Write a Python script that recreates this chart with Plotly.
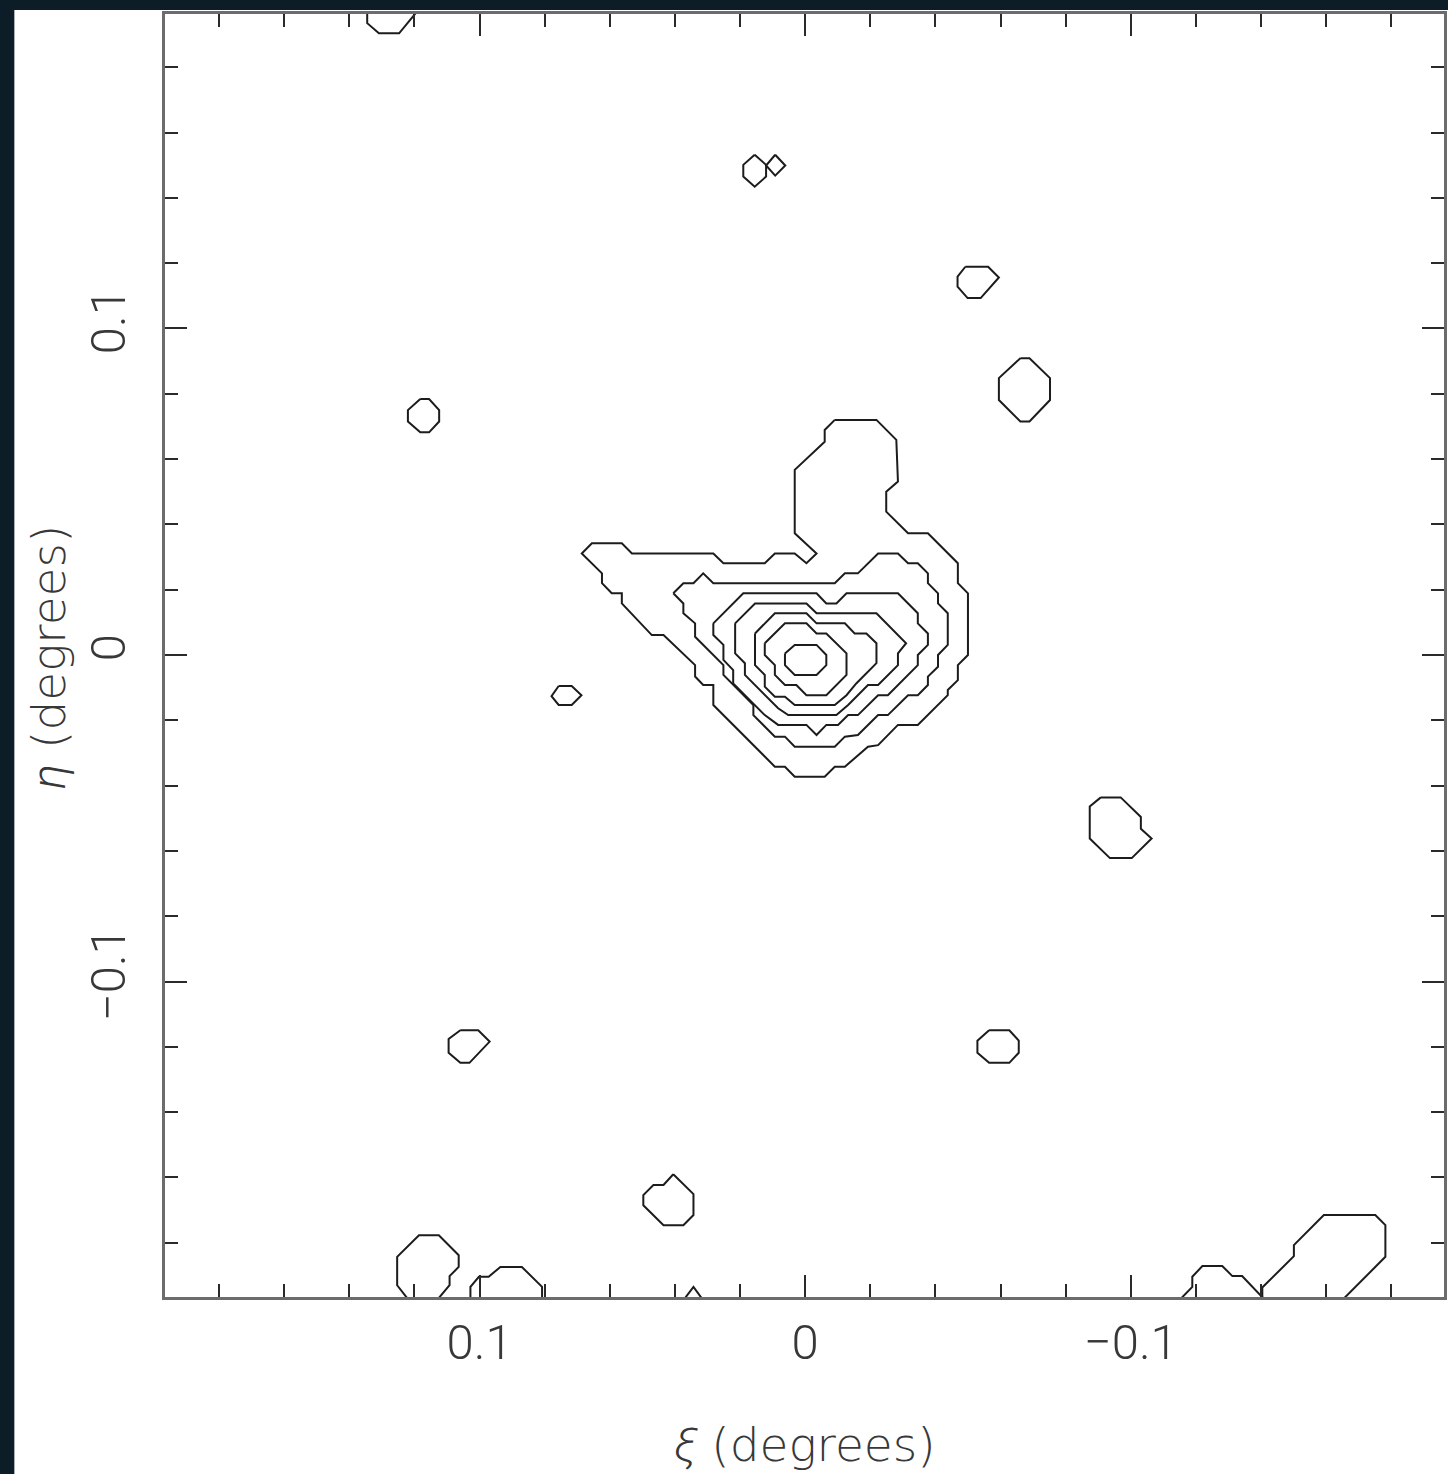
import plotly.graph_objects as go

# ---------------- data (degrees) ----------------
# Tick labels
x_tick_vals = [0.1, 0.0, -0.1]
x_tick_text = ["0.1", "0", "\u22120.1"]
y_tick_vals = [0.1, 0.0, -0.1]
y_tick_text = ["0.1", "0", "\u22120.1"]

# Central nested density contours (outermost level 1 ... innermost level 7)
lvl1_xi = [-0.0091, -0.0219, -0.0280, -0.0285, -0.0249, -0.0249, -0.0316, -0.0377, -0.0469, -0.0469,
           -0.0500, -0.0500, -0.0469, -0.0469, -0.0438, -0.0438, -0.0346, -0.0285, -0.0224, -0.0193,
           -0.0122, -0.0091, -0.0060, 0.0032, 0.0062, 0.0093, 0.0282, 0.0282, 0.0313, 0.0338,
           0.0338, 0.0435, 0.0471, 0.0563, 0.0563, 0.0594, 0.0624, 0.0624, 0.0686, 0.0655,
           0.0563, 0.0532, 0.0282, 0.0251, 0.0124, 0.0093, 0.0032, -0.0004, -0.0035, 0.0032,
           0.0032, -0.0060, -0.0060, -0.0091]
lvl1_eta = [0.0720, 0.0720, 0.0659, 0.0531, 0.0500, 0.0439, 0.0373, 0.0373, 0.0281, 0.0220,
            0.0189, 0.0000, -0.0031, -0.0077, -0.0107, -0.0123, -0.0214, -0.0214, -0.0276, -0.0281,
            -0.0342, -0.0342, -0.0373, -0.0373, -0.0342, -0.0342, -0.0153, -0.0092, -0.0092, -0.0066,
            -0.0031, 0.0061, 0.0061, 0.0158, 0.0189, 0.0189, 0.0220, 0.0250, 0.0311, 0.0342,
            0.0342, 0.0311, 0.0311, 0.0281, 0.0281, 0.0311, 0.0311, 0.0281, 0.0311, 0.0373,
            0.0567, 0.0653, 0.0689, 0.0720]

lvl2_xi = [0.0405, 0.0374, 0.0343, 0.0313, 0.0282, -0.0091, -0.0122, -0.0162, -0.0224, -0.0285,
           -0.0316, -0.0346, -0.0377, -0.0377, -0.0408, -0.0408, -0.0438, -0.0438, -0.0408, -0.0408,
           -0.0377, -0.0377, -0.0346, -0.0316, -0.0254, -0.0224, -0.0162, -0.0122, -0.0091, 0.0032,
           0.0062, 0.0093, 0.0159, 0.0159, 0.0251, 0.0251, 0.0338, 0.0338, 0.0374, 0.0374, 0.0405]
lvl2_eta = [0.0189, 0.0220, 0.0220, 0.0250, 0.0220, 0.0220, 0.0250, 0.0250, 0.0311, 0.0311,
            0.0281, 0.0281, 0.0250, 0.0220, 0.0189, 0.0158, 0.0128, 0.0031, 0.0000, -0.0036,
            -0.0066, -0.0092, -0.0123, -0.0123, -0.0184, -0.0184, -0.0245, -0.0250, -0.0281, -0.0281,
            -0.0250, -0.0250, -0.0184, -0.0153, -0.0061, -0.0031, 0.0056, 0.0097, 0.0128, 0.0158, 0.0189]

lvl3_xi = [0.0282, 0.0190, -0.0035, -0.0065, -0.0096, -0.0127, -0.0285, -0.0346, -0.0346, -0.0377,
           -0.0377, -0.0346, -0.0346, -0.0316, -0.0254, -0.0224, -0.0162, -0.0132, -0.0101, -0.0065,
           -0.0035, -0.0004, 0.0083, 0.0124, 0.0221, 0.0221, 0.0251, 0.0251, 0.0282, 0.0282]
lvl3_eta = [0.0097, 0.0189, 0.0189, 0.0158, 0.0158, 0.0189, 0.0189, 0.0128, 0.0097, 0.0066,
            0.0031, 0.0000, -0.0031, -0.0061, -0.0123, -0.0123, -0.0184, -0.0184, -0.0214, -0.0214,
            -0.0245, -0.0214, -0.0214, -0.0184, -0.0087, -0.0046, -0.0015, 0.0031, 0.0061, 0.0097]

lvl4_xi = [0.0215, 0.0154, -0.0004, -0.0035, -0.0219, -0.0310, -0.0285, -0.0285, -0.0224, -0.0193,
           -0.0132, -0.0096, 0.0052, 0.0083, 0.0185, 0.0185, 0.0215, 0.0215]
lvl4_eta = [0.0097, 0.0158, 0.0158, 0.0128, 0.0128, 0.0036, 0.0005, -0.0031, -0.0092, -0.0092,
            -0.0153, -0.0184, -0.0184, -0.0163, -0.0061, -0.0025, 0.0005, 0.0097]

lvl5_xi = [0.0154, 0.0093, -0.0004, -0.0035, -0.0122, -0.0152, -0.0188, -0.0219, -0.0219, -0.0157,
           -0.0127, -0.0091, 0.0032, 0.0062, 0.0093, 0.0124, 0.0124, 0.0154, 0.0154]
lvl5_eta = [0.0066, 0.0128, 0.0128, 0.0097, 0.0097, 0.0066, 0.0066, 0.0036, -0.0025, -0.0087,
            -0.0123, -0.0153, -0.0153, -0.0128, -0.0128, -0.0097, -0.0061, -0.0031, 0.0066]

lvl6_xi = [0.0124, 0.0062, -0.0004, -0.0035, -0.0065, -0.0127, -0.0127, -0.0065, -0.0004, 0.0027,
           0.0062, 0.0093, 0.0093, 0.0124, 0.0124]
lvl6_eta = [0.0036, 0.0097, 0.0097, 0.0066, 0.0066, 0.0005, -0.0061, -0.0123, -0.0123, -0.0092,
            -0.0092, -0.0061, -0.0031, 0.0000, 0.0036]

lvl7_xi = [0.0062, 0.0032, -0.0035, -0.0065, -0.0065, -0.0035, 0.0032, 0.0062, 0.0062]
lvl7_eta = [0.0005, 0.0031, 0.0031, 0.0000, -0.0031, -0.0061, -0.0061, -0.0031, 0.0005]

# Isolated lowest-level contours around the field
blob01_xi = [0.1345, 0.1345, 0.1309, 0.1247, 0.1175]
blob01_eta = [0.1991, 0.1935, 0.1904, 0.1904, 0.1991]
blob02_xi = [0.0155, 0.0120, 0.0120, 0.0155, 0.0190, 0.0190, 0.0155]
blob02_eta = [0.1532, 0.1501, 0.1465, 0.1434, 0.1465, 0.1501, 0.1532]
blob03_xi = [0.0092, 0.0061, 0.0092, 0.0120, 0.0092]
blob03_eta = [0.1532, 0.1499, 0.1468, 0.1499, 0.1532]
blob04_xi = [-0.0492, -0.0562, -0.0595, -0.0539, -0.0499, -0.0468, -0.0468, -0.0492]
blob04_eta = [0.1189, 0.1189, 0.1156, 0.1093, 0.1093, 0.1128, 0.1159, 0.1189]
blob05_xi = [-0.0661, -0.0689, -0.0752, -0.0752, -0.0689, -0.0661, -0.0595, -0.0595, -0.0661]
blob05_eta = [0.0909, 0.0909, 0.0848, 0.0781, 0.0715, 0.0715, 0.0781, 0.0848, 0.0909]
blob06_xi = [0.1182, 0.1155, 0.1124, 0.1124, 0.1155, 0.1182, 0.1220, 0.1220, 0.1182]
blob06_eta = [0.0784, 0.0784, 0.0750, 0.0715, 0.0682, 0.0682, 0.0715, 0.0750, 0.0784]
blob07_xi = [0.0757, 0.0717, 0.0687, 0.0717, 0.0757, 0.0779, 0.0757]
blob07_eta = [-0.0095, -0.0095, -0.0123, -0.0153, -0.0153, -0.0126, -0.0095]
blob08_xi = [-0.0908, -0.0969, -0.1031, -0.1031, -0.1064, -0.1003, -0.0936, -0.0874, -0.0874, -0.0908]
blob08_eta = [-0.0436, -0.0436, -0.0496, -0.0532, -0.0562, -0.0622, -0.0622, -0.0562, -0.0464, -0.0436]
blob09_xi = [0.1059, 0.1004, 0.0969, 0.1031, 0.1059, 0.1095, 0.1095, 0.1059]
blob09_eta = [-0.1149, -0.1149, -0.1184, -0.1249, -0.1249, -0.1218, -0.1176, -0.1149]
blob10_xi = [-0.0565, -0.0627, -0.0656, -0.0656, -0.0627, -0.0565, -0.0529, -0.0529, -0.0565]
blob10_eta = [-0.1149, -0.1149, -0.1181, -0.1218, -0.1249, -0.1249, -0.1218, -0.1181, -0.1149]
blob11_xi = [0.0405, 0.0343, 0.0343, 0.0374, 0.0435, 0.0497, 0.0497, 0.0466, 0.0435, 0.0405]
blob11_eta = [-0.1590, -0.1651, -0.1715, -0.1746, -0.1746, -0.1685, -0.1654, -0.1623, -0.1623, -0.1590]
blob12_xi = [0.1217, 0.1253, 0.1253, 0.1186, 0.1125, 0.1064, 0.1064, 0.1092, 0.1092, 0.1120, 0.1131]
blob12_eta = [-0.1976, -0.1930, -0.1843, -0.1777, -0.1777, -0.1838, -0.1874, -0.1902, -0.1930, -0.1965, -0.1976]
blob13_xi = [0.1028, 0.1028, 0.1002, 0.0972, 0.0936, 0.0870, 0.0808, 0.0808]
blob13_eta = [-0.1976, -0.1935, -0.1904, -0.1904, -0.1874, -0.1874, -0.1935, -0.1976]
blob14_xi = [0.0374, 0.0343, 0.0313]
blob14_eta = [-0.1976, -0.1935, -0.1976]
blob15_xi = [-0.1149, -0.1189, -0.1189, -0.1220, -0.1281, -0.1312, -0.1342, -0.1413]
blob15_eta = [-0.1976, -0.1935, -0.1904, -0.1871, -0.1871, -0.1902, -0.1902, -0.1976]
blob16_xi = [-0.1404, -0.1404, -0.1501, -0.1501, -0.1593, -0.1751, -0.1782, -0.1782, -0.1649]
blob16_eta = [-0.1976, -0.1937, -0.1841, -0.1807, -0.1715, -0.1715, -0.1746, -0.1843, -0.1976]

contours = [
    (lvl1_xi, lvl1_eta), (lvl2_xi, lvl2_eta), (lvl3_xi, lvl3_eta), (lvl4_xi, lvl4_eta),
    (lvl5_xi, lvl5_eta), (lvl6_xi, lvl6_eta), (lvl7_xi, lvl7_eta),
    (blob01_xi, blob01_eta), (blob02_xi, blob02_eta), (blob03_xi, blob03_eta),
    (blob04_xi, blob04_eta), (blob05_xi, blob05_eta), (blob06_xi, blob06_eta),
    (blob07_xi, blob07_eta), (blob08_xi, blob08_eta), (blob09_xi, blob09_eta),
    (blob10_xi, blob10_eta), (blob11_xi, blob11_eta), (blob12_xi, blob12_eta),
    (blob13_xi, blob13_eta), (blob14_xi, blob14_eta), (blob15_xi, blob15_eta),
    (blob16_xi, blob16_eta),
]

# ---------------- figure ----------------
W, H = 1448, 1474
ML, MR, MT, MB = 165, 1, 14, 177
PW, PH = W - ML - MR, H - MT - MB

LINE = "#1c1c1c"
TICK_FONT = "Roboto, Liberation Sans, Arial, sans-serif"
TITLE_FONT = "DejaVu Sans, Verdana, sans-serif"
TEXT_COLOR = "#383838"
DARK_BG = "#0c1d27"

fig = go.Figure()
for xs, ys in contours:
    fig.add_trace(go.Scatter(x=xs, y=ys, mode="lines",
                             line=dict(color=LINE, width=2), hoverinfo="skip"))

axis_common = dict(
    tickmode="array", ticks="inside", ticklen=22, tickwidth=2, tickcolor="#2a2a2a",
    showline=True, linecolor="#6c6c6c", linewidth=3, mirror="ticks",
    showgrid=False, zeroline=False,
    minor=dict(tickmode="linear", tick0=0, dtick=0.02, ticks="inside",
               ticklen=13, tickwidth=2, tickcolor="#2a2a2a", showgrid=False),
    tickfont=dict(family=TICK_FONT, size=49, color=TEXT_COLOR, weight=300),
)

fig.update_xaxes(range=[0.1966, -0.1962], tickvals=x_tick_vals, ticktext=x_tick_text,
                 ticklabelstandoff=0, **axis_common)
fig.update_yaxes(range=[-0.1966, 0.1963], tickvals=y_tick_vals, ticktext=y_tick_text,
                 tickangle=-90, ticklabelstandoff=17, **axis_common)


def px_x(px):
    return (px - ML) / PW


def px_y(py):
    return (H - MB - py) / PH


GREEK = "<i><span style='font-family:Roboto;font-weight:300'>{}</span></i>"

fig.update_layout(
    width=W, height=H,
    margin=dict(l=ML, r=MR, t=MT, b=MB),
    paper_bgcolor=DARK_BG,
    plot_bgcolor="white",
    showlegend=False,
    shapes=[dict(type="rect", xref="paper", yref="paper", layer="below",
                 x0=px_x(14), x1=px_x(W + 5), y0=px_y(H + 5), y1=px_y(10),
                 fillcolor="white", line=dict(width=0))],
    annotations=[
        dict(text=GREEK.format("\u03be") + " (degrees)", xref="paper", yref="paper",
             x=px_x(806), y=px_y(1444), xanchor="center", yanchor="middle",
             showarrow=False,
             font=dict(family=TITLE_FONT, size=47, color=TEXT_COLOR, weight=200)),
        dict(text=GREEK.format("\u03b7") + " (degrees)", xref="paper", yref="paper",
             x=px_x(48), y=px_y(657), xanchor="center", yanchor="middle", textangle=-90,
             showarrow=False,
             font=dict(family=TITLE_FONT, size=47, color=TEXT_COLOR, weight=200)),
    ],
)

fig.write_html(
    "out.html",
    config={"displayModeBar": False},
    post_script=("document.body.style.margin='0px';"
                 "document.body.style.overflow='hidden';"
                 "document.body.style.background='" + DARK_BG + "';"),
)
